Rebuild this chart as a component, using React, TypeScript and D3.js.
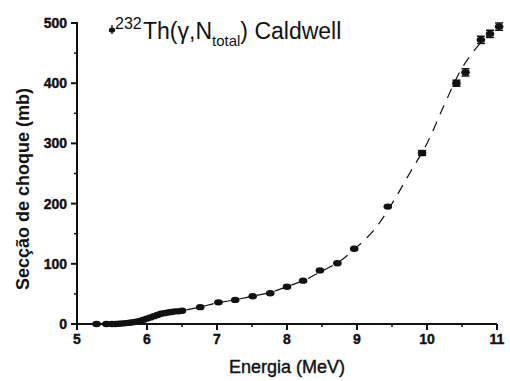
import React from "react";
import * as d3 from "d3";

const energy = [5.28, 5.42, 5.5, 5.55, 5.6, 5.65, 5.7, 5.75, 5.8, 5.85, 5.9, 5.95, 6.0, 6.05, 6.1, 6.15, 6.2, 6.25, 6.3, 6.35, 6.4, 6.45, 6.5,
  6.76, 7.02, 7.26, 7.51, 7.76, 8.0, 8.23, 8.47, 8.72, 8.96, 9.44, 9.93, 10.42, 10.55, 10.77, 10.9, 11.03];
const sigma = [0, 0, 0, 0, 0.5, 1, 1.5, 2, 3, 4, 5, 7, 9, 11, 13, 15, 17, 18, 19, 20, 21, 21, 22,
  28, 36, 40, 46, 51, 62, 72, 89, 101, 125, 195, 284, 400, 418, 472, 482, 494];
const sigmaErr = [1, 1, 1, 1, 1, 1, 1, 1, 1, 1, 1, 1, 1, 1, 1, 1, 1, 1, 1, 1, 1, 1, 1,
  2, 2, 2, 2, 2, 2, 2, 2, 2, 3, 3, 4, 5, 6, 6, 6, 6];

const fitEnergy = [5.3, 5.6, 5.9, 6.2, 6.5, 6.75, 7.0, 7.25, 7.5, 7.75, 8.0, 8.25, 8.5, 8.75, 9.0, 9.25, 9.5, 9.75, 10.0, 10.25, 10.5, 10.75, 10.9];
const fitSigma = [0, 0.5, 5, 16, 22, 28, 35, 40, 46, 52, 62, 73, 88, 104, 128, 157, 200, 250, 300, 365, 425, 465, 482];

const xTicks = [5, 6, 7, 8, 9, 10, 11];
const xMinor = [5.5, 6.5, 7.5, 8.5, 9.5, 10.5];
const yTicks = [0, 100, 200, 300, 400, 500];
const yMinor = [50, 150, 250, 350, 450];

export default function App() {
  const x = d3.scaleLinear().domain([5, 11]).range([77, 497]);
  const y = d3.scaleLinear().domain([0, 500]).range([324, 23]);
  const fitPts = fitEnergy.map((e, i) => [e, fitSigma[i]] as [number, number]);
  const line = d3.line<[number, number]>().x(d => x(d[0])).y(d => y(d[1])).curve(d3.curveCatmullRom);
  const font = "'Liberation Sans', Arial, sans-serif";
  return (
    <svg width={510} height={381} style={{ position: "absolute", left: 0, top: 0, background: "#fff" }} fontFamily={font}>
      <path d={line(fitPts) || ""} fill="none" stroke="#111" strokeWidth={1.2} strokeDasharray="10,8" />
      {energy.map((e, i) => {
        const cx = x(e), cy = y(sigma[i]);
        const y1 = y(sigma[i] + sigmaErr[i]), y2 = y(sigma[i] - sigmaErr[i]);
        return (
          <g key={i}>
            {sigmaErr[i] >= 4 && (
              <g stroke="#111" strokeWidth={1.5}>
                <line x1={cx} x2={cx} y1={y1} y2={y2} />
                <line x1={cx - 4} x2={cx + 4} y1={y1} y2={y1} />
                <line x1={cx - 4} x2={cx + 4} y1={y2} y2={y2} />
              </g>
            )}
            <ellipse cx={cx} cy={cy} rx={4.3} ry={3.2} fill="#111" />
          </g>
        );
      })}
      {/* axes */}
      <line x1={x(5)} x2={x(11)} y1={y(0)} y2={y(0)} stroke="#111" strokeWidth={2} />
      <line x1={x(5)} x2={x(5)} y1={y(0) + 1} y2={y(500) - 1} stroke="#111" strokeWidth={2} />
      {xTicks.map(t => (
        <g key={t}>
          <line x1={x(t)} x2={x(t)} y1={y(0)} y2={y(0) + 6} stroke="#111" strokeWidth={2} />
          <text x={x(t)} y={344} textAnchor="middle" fontSize={14} fontWeight="bold" fill="#111" stroke="#111" strokeWidth={0.4}>{t}</text>
        </g>
      ))}
      {xMinor.map(t => (
        <line key={t} x1={x(t)} x2={x(t)} y1={y(0)} y2={y(0) + 3} stroke="#111" strokeWidth={1.5} />
      ))}
      {yTicks.map(t => (
        <g key={t}>
          <line x1={x(5) - 6} x2={x(5)} y1={y(t)} y2={y(t)} stroke="#111" strokeWidth={2} />
          <text x={67} y={y(t) + 5} textAnchor="end" fontSize={14} fontWeight="bold" fill="#111" stroke="#111" strokeWidth={0.4}>{t}</text>
        </g>
      ))}
      {yMinor.map(t => (
        <line key={t} x1={x(5) - 3} x2={x(5)} y1={y(t)} y2={y(t)} stroke="#111" strokeWidth={1.5} />
      ))}
      <text x={287} y={373} textAnchor="middle" fontSize={18} fill="#111" stroke="#111" strokeWidth={0.4}>Energia (MeV)</text>
      <text transform="translate(29,189) rotate(-90)" textAnchor="middle" fontSize={18} fontWeight="bold" fill="#111">Secção de choque (mb)</text>
      {/* legend / title */}
      <g stroke="#111" strokeWidth={1.3}>
        <line x1={112} x2={112} y1={25} y2={34} />
      </g>
      <ellipse cx={112} cy={30} rx={3.2} ry={2.6} fill="#111" />
      <text x={115} y={29} fontSize={16} fill="#111">232</text>
      <text x={143} y={39} fontSize={23} fill="#111">
        Th(γ,N<tspan fontSize={15} dy={7}>total</tspan><tspan dy={-7}>) Caldwell</tspan>
      </text>
    </svg>
  );
}
